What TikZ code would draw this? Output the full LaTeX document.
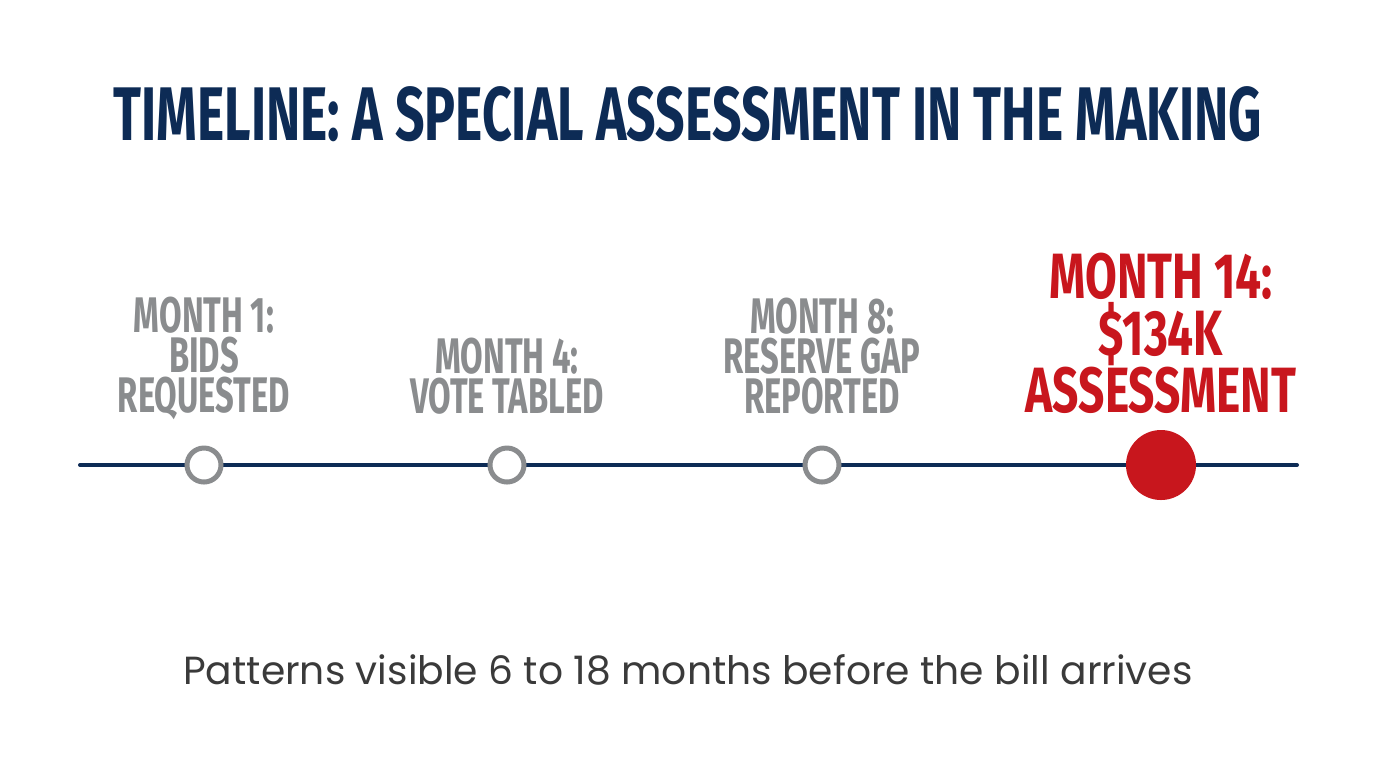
\documentclass[tikz,border=0pt]{standalone}
\usepackage{fontspec}
\newfontfamily\headfont[FakeStretch=0.68]{Fira Sans}
\newfontfamily\stepfont[FakeStretch=0.655]{Fira Sans}
\newfontfamily\alarmfont[FakeStretch=0.72]{Fira Sans}
\newfontfamily\notefont{Poppins}
\usetikzlibrary{positioning}

\definecolor{navy}{HTML}{0D2B55}
\definecolor{stone}{HTML}{8A8C8E}
\definecolor{alarm}{HTML}{C8161D}
\definecolor{ink}{HTML}{3A3A3A}

\begin{document}
\begin{tikzpicture}[x=0.5pt,y=-0.5pt]
    \tikzstyle{milestone}=[circle,draw=stone,line width=2.5pt,fill=white,minimum size=17pt,inner sep=0pt]
    \tikzstyle{deadline}=[circle,fill=alarm,minimum size=35pt,inner sep=0pt]
    \tikzstyle{annot}=[align=center,inner sep=0pt,anchor=south,text=stone,
        font=\stepfont\bfseries\fontsize{25}{20}\selectfont]

    \useasboundingbox[fill=white] (0,0) rectangle (1376,768);

    % Title
    \node[text=navy,font=\headfont\bfseries\fontsize{38}{40}\selectfont] (title) at (688,114)
        {TIMELINE: A SPECIAL ASSESSMENT IN THE MAKING};

    % Draw the time axis and its milestones
    \coordinate (start) at (80,465);
    \coordinate (end) at (1297,465);
    \draw[navy,line width=2pt,line cap=round] (start) -- (end);

    \node[milestone] (M-1) at (204,465) {};
    \node[milestone] (M-4) at (507,465) {};
    \node[milestone] (M-8) at (822,465) {};
    \node[deadline] (M-14) at (1161,465) {};

    % Annotate the milestones
    \node[annot] (L-1) at (204,420) {MONTH 1:\\BIDS\\REQUESTED};
    \node[annot] (L-4) at (507,415) {MONTH 4:\\VOTE TABLED};
    \node[annot] (L-8) at (822,415) {MONTH 8:\\RESERVE GAP\\REPORTED};
    \node[annot,text=alarm,font=\alarmfont\bfseries\fontsize{32}{28.5}\selectfont] (L-14) at (1161,414)
        {MONTH 14:\\\$134K\\ASSESSMENT};

    % Closing note
    \node[text=ink,font=\notefont\fontsize{19.6}{22}\selectfont] (note) at (688,670)
        {Patterns visible 6 to 18 months before the bill arrives};
\end{tikzpicture}
\end{document}
